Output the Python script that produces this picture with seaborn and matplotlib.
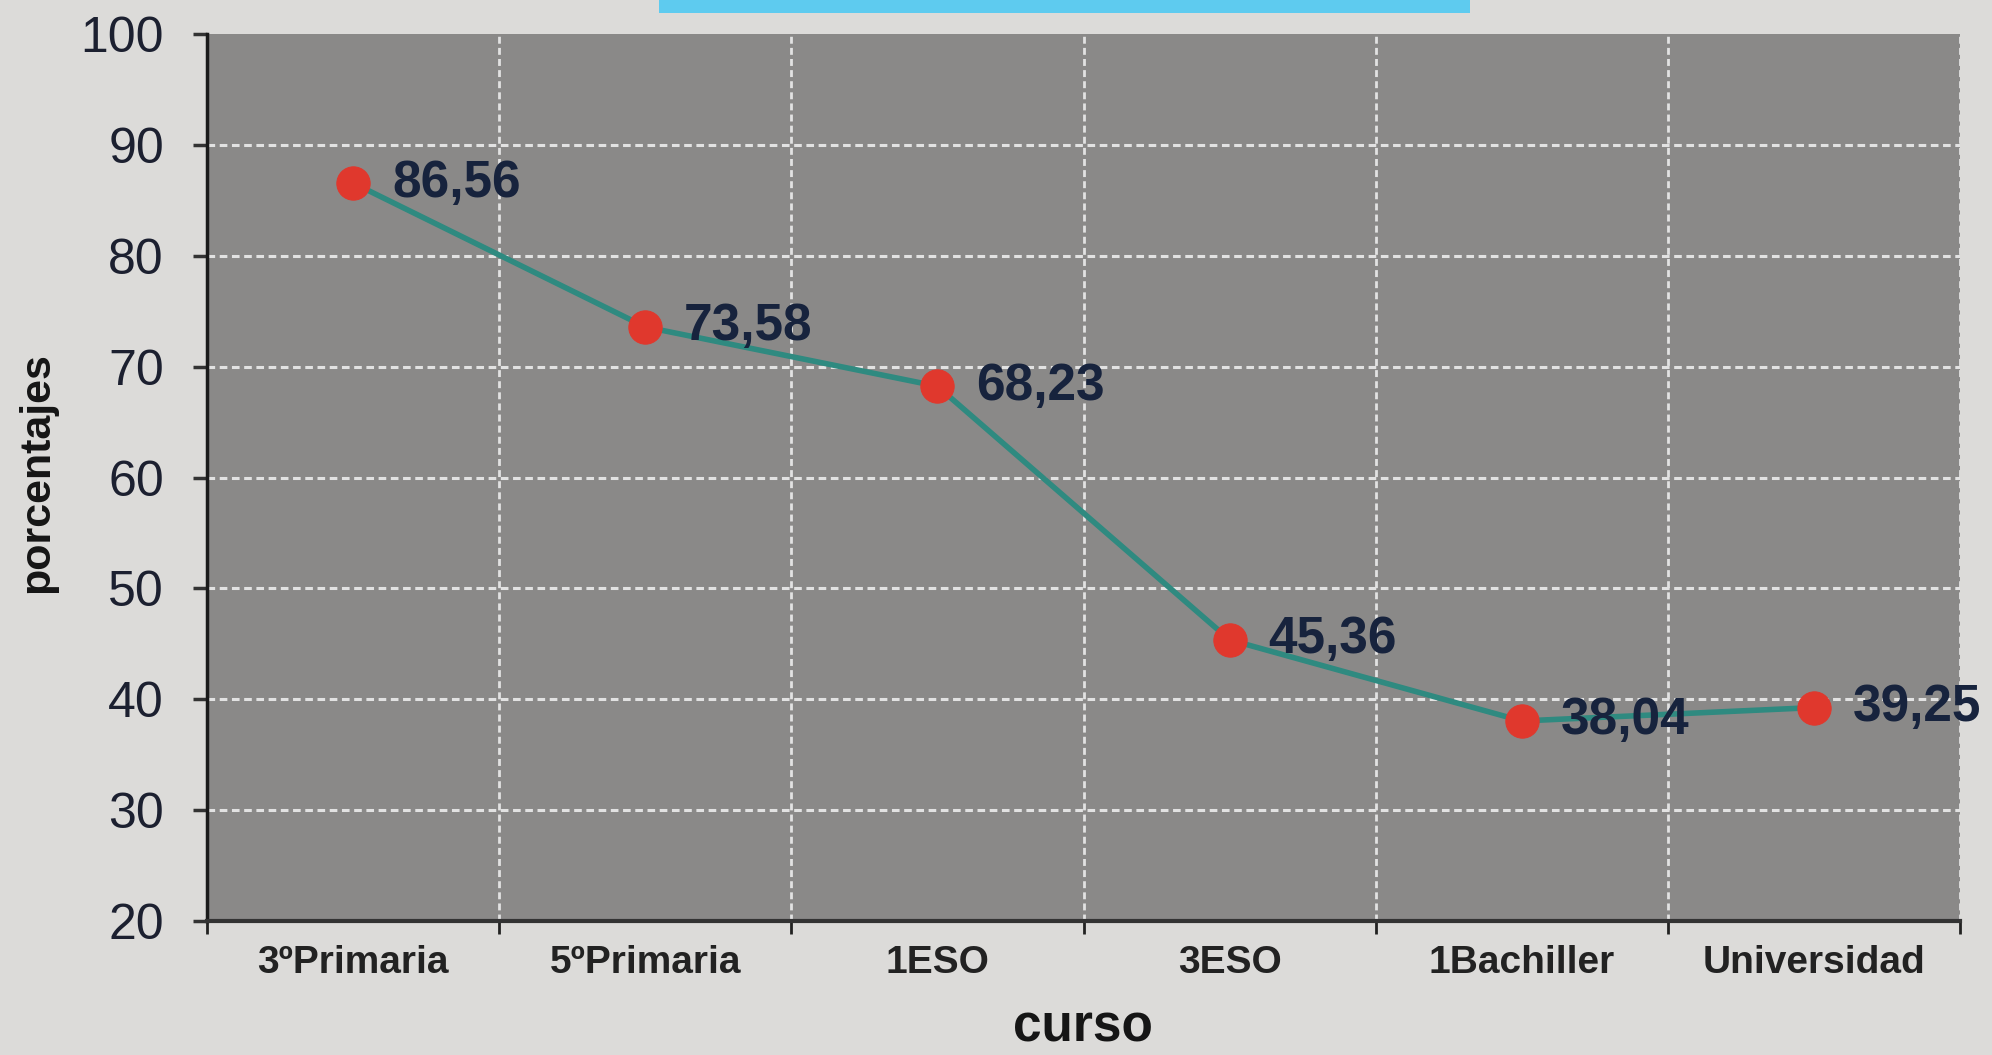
import matplotlib
matplotlib.use("Agg")
import matplotlib.pyplot as plt
from matplotlib.patches import Rectangle
from matplotlib.ticker import FixedLocator
import numpy as np
import pandas as pd
import seaborn as sns

# Data
cursos = ["3ºPrimaria", "5ºPrimaria", "1ESO", "3ESO", "1Bachiller", "Universidad"]
porcentajes = [86.56, 73.58, 68.23, 45.36, 38.04, 39.25]
y_ticks = [20, 30, 40, 50, 60, 70, 80, 90, 100]

sns.set_theme(style="white")
plt.rcParams["font.family"] = ["Liberation Sans", "DejaVu Sans"]

W, H, DPI = 1992, 1055, 100
fig = plt.figure(figsize=(W / DPI, H / DPI), dpi=DPI)
fig.patch.set_facecolor("#dcdbd9")

ax = fig.add_axes([207 / W, 1 - 921 / H, (1960 - 207) / W, (921 - 34) / H])
ax.set_facecolor("#8a8988")

df = pd.DataFrame({"curso": cursos, "pct": porcentajes})
x = np.arange(len(cursos))

sns.lineplot(x=x, y=df["pct"], ax=ax, color="#2f8a80", linewidth=4,
             marker="o", markersize=24, markerfacecolor="#e0382d",
             markeredgecolor="#e0382d", zorder=3)
ax.set_xlabel("")
ax.set_ylabel("")

for xi, v in zip(x, porcentajes):
    ax.annotate(f"{v:.2f}".replace(".", ","), (xi, v), xytext=(28, 0),
                textcoords="offset points", ha="left", va="center",
                fontsize=37, fontweight="bold", color="#17233d", zorder=4)

ax.set_xlim(-0.5, len(cursos) - 0.5)
ax.set_ylim(20, 100)

# category boundaries carry the ticks and vertical grid; names sit at centres
ax.xaxis.set_major_locator(FixedLocator(np.arange(-0.5, len(cursos), 1.0)))
ax.xaxis.set_minor_locator(FixedLocator(x))
ax.set_xticklabels([], minor=False)
ax.set_xticklabels(cursos, minor=True, fontsize=28, fontweight="bold",
                   color="#222222",
                   family=["Liberation Sans Narrow", "Liberation Sans", "DejaVu Sans"])
ax.tick_params(axis="x", which="major", direction="out", length=9, width=2,
               color="#222222", bottom=True)
ax.tick_params(axis="x", which="minor", length=0, pad=17, bottom=True)

ax.set_yticks(y_ticks)
ax.set_yticklabels([str(t) for t in y_ticks], fontsize=36, color="#1c2030")
ax.tick_params(axis="y", direction="out", length=10, width=2.5,
               color="#333333", pad=21, left=True)

for yv in y_ticks[1:-1]:
    ax.axhline(yv, color="#e2e2e2", lw=2.2, ls=(0, (2.5, 1.5)), zorder=1)
for xb in np.arange(0.5, len(cursos), 1.0):
    ax.axvline(xb, color="#e2e2e2", lw=2.0, ls=(0, (2.5, 1.5)), zorder=1)

for s in ["top", "right"]:
    ax.spines[s].set_visible(False)
ax.spines["left"].set_color("#1a1a1a")
ax.spines["left"].set_linewidth(2.5)
ax.spines["bottom"].set_color("#333333")
ax.spines["bottom"].set_linewidth(3)

# axis titles placed in figure coordinates
fig.text(1083 / W, 2 / H, "curso", ha="center", va="bottom",
         fontsize=37, fontweight="bold", color="#151515")
fig.text(37 / W, 1 - 473 / H, "porcentajes", ha="center", va="center",
         rotation=90, fontsize=31, fontweight="bold", color="#151515")

# accent bar along the top edge
fig.patches.append(Rectangle((659 / W, 1 - 13 / H), (1470 - 659) / W, 13 / H,
                             transform=fig.transFigure, facecolor="#5ecbef",
                             edgecolor="none"))

fig.savefig("out.png", dpi=DPI, facecolor=fig.get_facecolor())
